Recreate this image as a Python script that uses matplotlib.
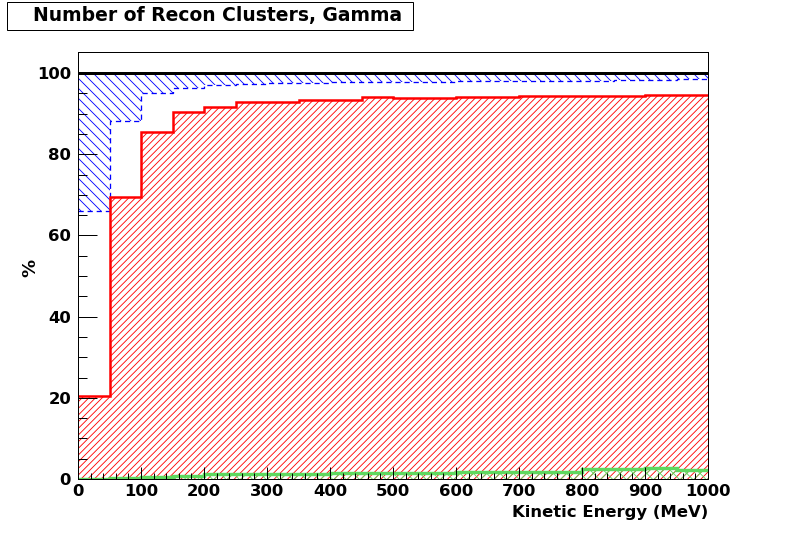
import numpy as np
import matplotlib
matplotlib.use("Agg")
import matplotlib.pyplot as plt
from matplotlib.patches import Rectangle
from matplotlib.ticker import MultipleLocator, FixedLocator

# ---- data ----
edges = np.arange(0, 1001, 50)
total = [100.0] * 20
blue_level = [66.0, 88.2, 95.0, 96.4, 97.0, 97.3, 97.5, 97.6, 97.7, 97.8,
              97.9, 97.9, 98.0, 98.0, 98.0, 98.1, 98.1, 98.2, 98.3, 98.5]
red_level = [20.5, 69.5, 85.5, 90.5, 91.7, 92.8, 92.9, 93.3, 93.4, 94.1,
             93.9, 93.9, 94.1, 94.1, 94.4, 94.3, 94.4, 94.4, 94.5, 94.7]
green_level = [0.0, 0.3, 0.5, 0.8, 1.2, 1.2, 1.2, 1.3, 1.4, 1.4,
               1.5, 1.6, 1.8, 1.8, 1.8, 1.8, 2.4, 2.4, 2.6, 2.3]
title = "Number of Recon Clusters, Gamma"
xlabel = "Kinetic Energy (MeV)"
ylabel = "%"

DPI = 120
def pt(px):
    return px * 72.0 / DPI

plt.rcParams['font.family'] = ['DejaVu Sans']
plt.rcParams['font.weight'] = 'bold'
plt.rcParams['hatch.linewidth'] = pt(0.85)

W, H = 788, 533
fig = plt.figure(figsize=(W / DPI, H / DPI), dpi=DPI)
ax = fig.add_axes([78 / W, 1 - 479 / H, (708 - 78) / W, (479 - 52) / H])

red = '#ff0000'
blue = '#0000ff'
green = '#5fd85f'

# filled hatched regions
ax.stairs(red_level, edges, baseline=0, fill=True, hatch='//////',
          facecolor='none', edgecolor=red, linewidth=0)
ax.stairs(total, edges, baseline=np.array(blue_level), fill=True,
          hatch='\\\\\\\\', facecolor='none', edgecolor=blue, linewidth=0)
ax.stairs(green_level, edges, baseline=0, fill=True, hatch='xxx',
          facecolor='none', edgecolor=green, linewidth=0)

# outlines
ax.stairs(blue_level, edges, baseline=None, color=blue, lw=pt(1.3),
          ls=(0, (4, 3)))
ax.stairs(red_level, edges, baseline=None, color=red, lw=pt(2.5))
ax.stairs(green_level, edges, baseline=None, color=green, lw=pt(3.4))
ax.stairs(total, edges, baseline=None, color='black', lw=pt(3))

ax.set_xlim(0, 1000)
ax.set_ylim(0, 105.2)

ax.xaxis.set_major_locator(MultipleLocator(100))
ax.xaxis.set_minor_locator(MultipleLocator(20))
ax.yaxis.set_major_locator(FixedLocator(np.arange(0, 101, 20)))
ax.yaxis.set_minor_locator(FixedLocator(np.arange(0, 101, 5)))
ax.tick_params(axis='x', which='major', direction='in', length=pt(12),
               width=pt(1), labelsize=pt(16.5), pad=pt(5))
ax.tick_params(axis='x', which='minor', direction='in', length=pt(6),
               width=pt(1))
ax.tick_params(axis='y', which='major', direction='in', length=pt(19),
               width=pt(1), labelsize=pt(16.5), pad=pt(7))
ax.tick_params(axis='y', which='minor', direction='in', length=pt(9),
               width=pt(1))
for lab in ax.get_xticklabels() + ax.get_yticklabels():
    lab.set_fontweight('bold')
for s in ax.spines.values():
    s.set_linewidth(pt(1))

fig.text(708 / W, 1 - 512 / H, xlabel, ha='right', va='center',
         fontsize=pt(16.5), fontweight='bold')
fig.text(30 / W, 1 - 268 / H, ylabel, ha='center', va='center',
         rotation=90, fontsize=pt(18), fontweight='bold')

# title box
fig.patches.append(Rectangle((7 / W, 1 - 30 / H), (413 - 7) / W, 28 / H,
                             transform=fig.transFigure, facecolor='white',
                             edgecolor='black', linewidth=pt(1)))
fig.text(33 / W, 1 - 16 / H, title, ha='left', va='center',
         fontsize=pt(18.8), fontweight='bold')

fig.savefig('out.png', dpi=DPI)
